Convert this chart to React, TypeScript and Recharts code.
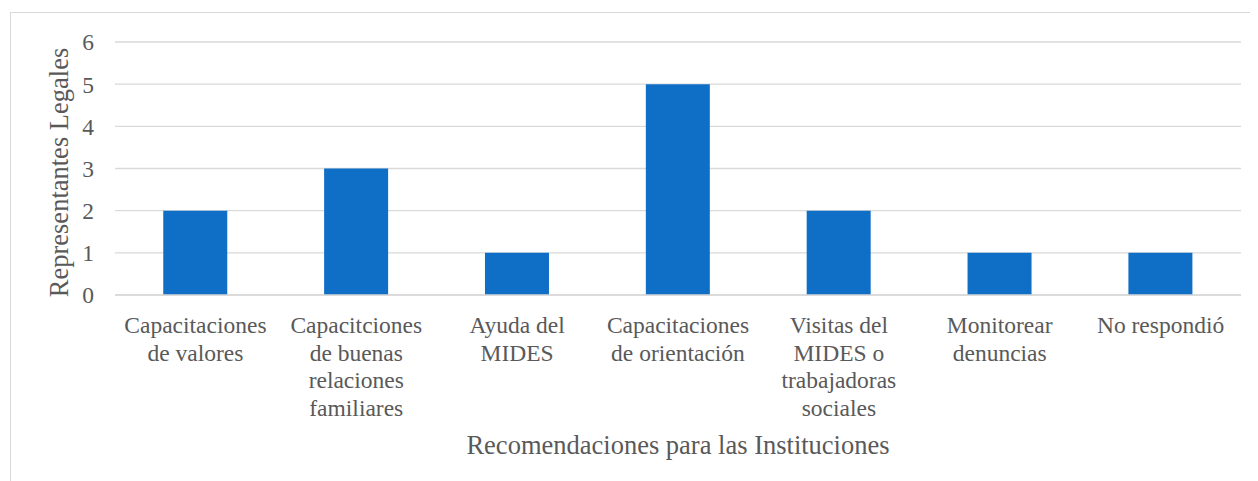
import { BarChart, Bar, XAxis, YAxis, CartesianGrid, Label } from 'recharts'

const categories = [
  'Capacitaciones de valores',
  'Capacitciones de buenas relaciones familiares',
  'Ayuda del MIDES',
  'Capacitaciones de orientación',
  'Visitas del MIDES o trabajadoras sociales',
  'Monitorear denuncias',
  'No respondió',
]
const labelLines = [
  ['Capacitaciones', 'de valores'],
  ['Capacitciones', 'de buenas', 'relaciones', 'familiares'],
  ['Ayuda del', 'MIDES'],
  ['Capacitaciones', 'de orientación'],
  ['Visitas del', 'MIDES o', 'trabajadoras', 'sociales'],
  ['Monitorear', 'denuncias'],
  ['No respondió'],
]
const values = [2, 3, 1, 5, 2, 1, 1]
const yTicks = [0, 1, 2, 3, 4, 5, 6]

const data = categories.map((name, i) => ({ name, value: values[i] }))

const FONT = '"Liberation Serif", "Times New Roman", serif'
const TEXT = '#595959'
const FS = 23.5
const TITLE_FS = 26.5

function WrappedTick({ x, y, index }: any) {
  const lines = labelLines[index] || []
  return (
    <text x={x} y={y} textAnchor="middle" fill={TEXT} fontFamily={FONT} fontSize={FS}>
      {lines.map((l, i) => (
        <tspan key={i} x={x} dy={i === 0 ? 38 : 27.5}>
          {l}
        </tspan>
      ))}
    </text>
  )
}

function YTitle({ viewBox }: any) {
  const cx = viewBox.x + 60
  const cy = viewBox.y + viewBox.height / 2 + 4
  return (
    <text
      x={cx}
      y={cy}
      transform={`rotate(-90 ${cx} ${cy})`}
      textAnchor="middle"
      fill={TEXT}
      fontFamily={FONT}
      fontSize={TITLE_FS}
    >
      Representantes Legales
    </text>
  )
}

export default function App() {
  return (
    <div style={{ position: 'relative', width: 1250, height: 473 }}>
      <div
        style={{
          position: 'absolute',
          left: 2,
          top: 4,
          width: 1260,
          height: 480,
          border: '1px solid #d9d9d9',
        }}
      />
      <BarChart
        width={1250}
        height={473}
        data={data}
        margin={{ top: 34, right: 17, left: 0, bottom: 26 }}
        barCategoryGap="30%"
        style={{ position: 'absolute', left: 0, top: 0 }}
      >
        <CartesianGrid vertical={false} stroke="#d9d9d9" strokeWidth={1.3} />
        <XAxis
          dataKey="name"
          height={160}
          interval={0}
          tickLine={false}
          tickSize={0}
          tickMargin={0}
          axisLine={{ stroke: '#d9d9d9', strokeWidth: 1.3 }}
          tick={<WrappedTick />}
          label={{
            value: 'Recomendaciones para las Instituciones',
            position: 'insideBottom',
            offset: 1,
            fill: TEXT,
            fontFamily: FONT,
            fontSize: TITLE_FS,
          }}
        />
        <YAxis
          width={107}
          domain={[0, 6]}
          ticks={yTicks}
          interval={0}
          axisLine={false}
          tickLine={false}
          tickSize={0}
          tickMargin={21}
          tick={{ fill: TEXT, fontFamily: FONT, fontSize: FS }}
        >
          <Label content={<YTitle />} />
        </YAxis>
        <Bar dataKey="value" fill="#0F6FC6" isAnimationActive={false} />
      </BarChart>
    </div>
  )
}
